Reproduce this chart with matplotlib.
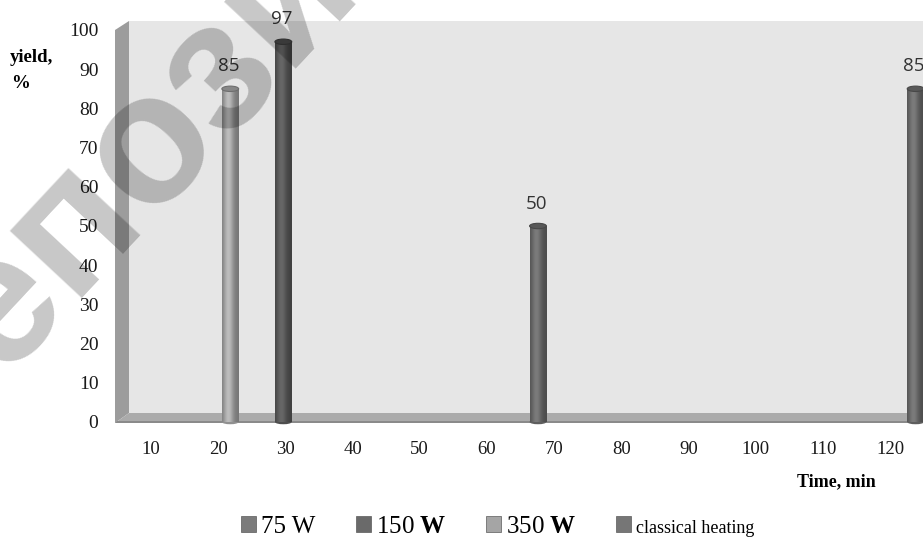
import numpy as np
import matplotlib
matplotlib.use('Agg')
import matplotlib.pyplot as plt
from matplotlib.patches import Ellipse, Polygon, Patch
from matplotlib.colors import to_rgb

# ---------------- data ----------------
time_min = [10, 20, 30, 40, 50, 60, 70, 80, 90, 100, 110, 120]
nan = np.nan
yield_75w = [nan, nan, nan, nan, nan, nan, nan, nan, nan, nan, nan, nan]
yield_150w = [nan, nan, 97, nan, nan, nan, nan, nan, nan, nan, nan, nan]
yield_350w = [nan, 85, nan, nan, nan, nan, nan, nan, nan, nan, nan, nan]
yield_classical = [nan, nan, nan, nan, nan, nan, 50, nan, nan, nan, nan, 85]
y_ticks = [0, 10, 20, 30, 40, 50, 60, 70, 80, 90, 100]
series_labels = ['75 W', r'150 $\mathbf{W}$', r'350 $\mathbf{W}$', 'classical heating']
watermark = 'репозиторий'

# ---------------- style / layout ----------------
series_colors = ['#7b7b7b', '#5c5c5c', '#a9a9a9', '#6e6e6e']
legend_colors = ['#7b7b7b', '#6a6a6a', '#a5a5a5', '#767676']
# horizontal shift of each drawn bar within its category slot (3-D layout)
bar_shift = {(2, 1): 0.18, (1, 2): -0.03, (3, 6): -0.24, (3, 11): 0.38}
bar_width = 0.25

plt.rcParams['mathtext.fontset'] = 'custom'
plt.rcParams['mathtext.rm'] = 'Liberation Serif'
plt.rcParams['mathtext.bf'] = 'Liberation Serif:bold'

W, H = 923, 537
fig = plt.figure(figsize=(W / 100, H / 100), dpi=100)


def fx(px):
    return px / W


def fy(py):
    return 1 - py / H


px_per_unit = 3.92
ax = fig.add_axes([fx(129), fy(422), fx(923) - fx(129), fy(21) - fy(422)])
ax.set_facecolor('#e6e6e6')
for s in ax.spines.values():
    s.set_visible(False)

# 3-D walls
left_wall = Polygon([(fx(115), fy(30)), (fx(129), fy(21)), (fx(129), fy(413)), (fx(115), fy(423))],
                    closed=True, transform=fig.transFigure, clip_on=False,
                    facecolor='#9c9c9c', edgecolor='none', zorder=1)
ax.add_patch(left_wall)
floor = Polygon([(fx(115), fy(423)), (fx(129), fy(413)), (fx(923), fy(413)), (fx(923), fy(423))],
                closed=True, transform=fig.transFigure, clip_on=False,
                facecolor='#ababab', edgecolor='none', zorder=1.2)
ax.add_patch(floor)
floor_edge = Polygon([(fx(115), fy(423)), (fx(923), fy(423)), (fx(923), fy(421)), (fx(117), fy(421))],
                     closed=True, transform=fig.transFigure, clip_on=False,
                     facecolor='#8a8a8a', edgecolor='none', zorder=1.3)
ax.add_patch(floor_edge)


def cylinder(x, h, w, base):
    base_rgb = np.array(to_rgb(base))
    rect = ax.bar(x, h, width=w, color=base, zorder=3, linewidth=0)[0]
    t = np.linspace(0, 1, 64)
    shade = 0.70 + 0.42 * np.exp(-((t - 0.38) / 0.30) ** 2)
    rgb = np.clip(shade[None, :, None] * base_rgb[None, None, :], 0, 1)
    rgb = np.repeat(rgb, 2, axis=0)
    im = ax.imshow(rgb, extent=[x - w / 2, x + w / 2, 0, h], aspect='auto',
                   zorder=3.1, interpolation='bilinear')
    im.set_clip_path(rect)
    eh = 4.5 / px_per_unit
    ax.add_patch(Ellipse((x, 0), w, eh, facecolor=np.clip(base_rgb * 0.85, 0, 1),
                         edgecolor='none', zorder=3.05, clip_on=False))
    ax.add_patch(Ellipse((x, h), w, eh * 1.2, facecolor=np.clip(base_rgb * 0.8, 0, 1),
                         edgecolor=np.clip(base_rgb * 0.65, 0, 1), linewidth=0.8, zorder=3.2))


all_series = [yield_75w, yield_150w, yield_350w, yield_classical]
for si, vals in enumerate(all_series):
    for ci, v in enumerate(vals):
        if np.isnan(v):
            continue
        x = ci + bar_shift.get((si, ci), 0.0)
        cylinder(x, v, bar_width, series_colors[si])
        ax.annotate(f'{v:g}', (x, v), xytext=(-1, 12.5), textcoords='offset points',
                    ha='center', va='baseline', fontsize=13.5, family='Open Sans',
                    color='#333333', annotation_clip=False)

ax.set_xlim(-0.327, 11.49)
ax.set_ylim(0, (422 - 21) / px_per_unit)
ax.set_xticks(range(len(time_min)))
ax.set_xticklabels([str(t) for t in time_min], fontsize=13.5, family='Liberation Serif', color='#1a1a1a')
ax.set_yticks(y_ticks)
ax.set_yticklabels([str(t) for t in y_ticks], fontsize=14, family='Liberation Serif', color='#1a1a1a')
ax.tick_params(axis='x', length=0, pad=14)
ax.tick_params(axis='y', length=0, pad=22)

fig.text(fx(10), fy(57), 'yield,', fontsize=13.5, fontweight='bold', family='Liberation Serif',
         ha='left', va='center')
fig.text(fx(11), fy(83), '%', fontsize=13.5, fontweight='bold', family='Liberation Serif',
         ha='left', va='center')
fig.text(fx(836), fy(482), 'Time, min', fontsize=13, fontweight='bold', family='Liberation Serif',
         ha='center', va='center')

handles = [Patch(facecolor=c, edgecolor='#5a5a5a', linewidth=0.5) for c in legend_colors]
leg = fig.legend(handles, series_labels, loc='center', bbox_to_anchor=(fx(498), fy(527)),
                 ncol=4, frameon=False, handlelength=0.6, handleheight=0.6,
                 handletextpad=0.2, columnspacing=1.6,
                 prop={'family': 'Liberation Serif', 'size': 18})
leg.get_texts()[3].set_fontsize(13)

# repository watermark (one rotated string, placed so its 4th letter sits at o_center)
wm_size = 133
wm_rot = 47
wm_font = dict(fontsize=wm_size, fontweight='bold', family='Liberation Sans')
o_center = np.array([150.0, 142.0])   # screen px (from top-left)
renderer = fig.canvas.get_renderer()


def text_width(s):
    t = fig.text(0, 0, s, **wm_font)
    w = t.get_window_extent(renderer).width
    t.remove()
    return w


along = text_width(watermark[:4]) - text_width(watermark[3]) / 2
xh = 0.52 * wm_size * 100 / 72
rot = np.deg2rad(wm_rot)
d = np.array([np.cos(rot), -np.sin(rot)])
u = np.array([-np.sin(rot), -np.cos(rot)])
start = o_center - along * d - (xh / 2) * u
fig.text(fx(start[0]), fy(start[1]), watermark, rotation=wm_rot, rotation_mode='anchor',
         ha='left', va='baseline', color='black', alpha=0.22, zorder=10, **wm_font)

fig.savefig('out.png', dpi=100)
